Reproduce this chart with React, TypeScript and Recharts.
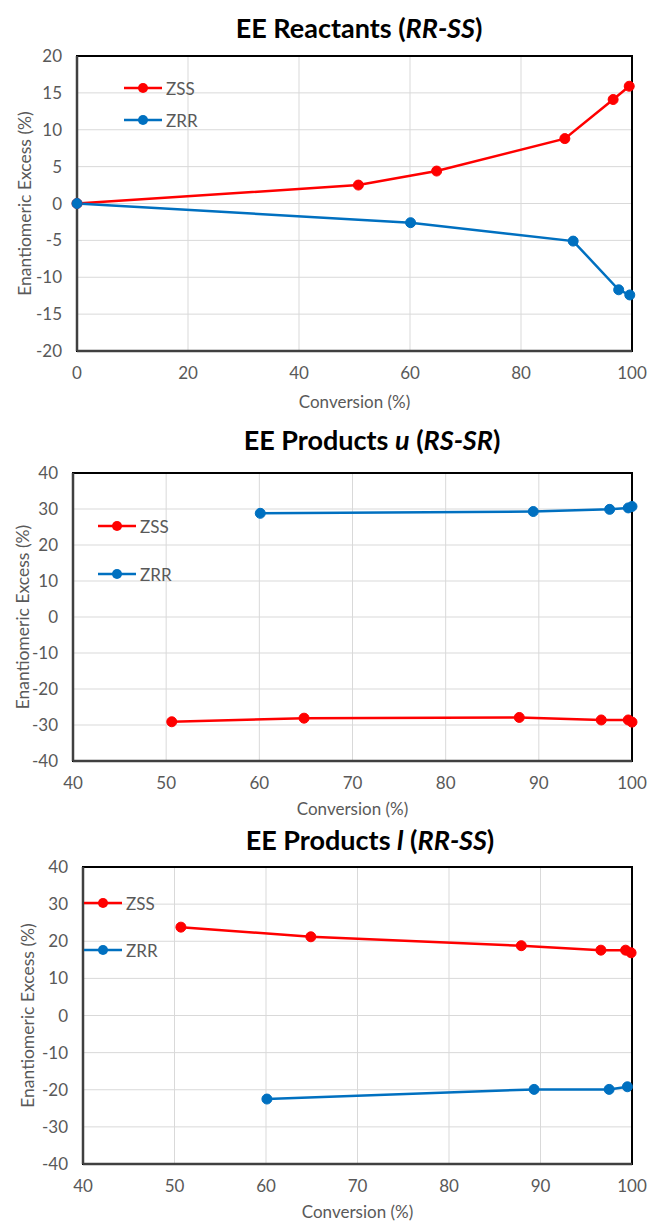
import React from "react";
import { LineChart, Line, XAxis, YAxis, CartesianGrid, Legend, ReferenceArea } from "recharts";

// EE Reactants (RR-SS)
const reactZssConv = [0, 50.7, 64.8, 87.9, 96.6, 99.5];
const reactZssEe = [0, 2.5, 4.4, 8.8, 14.1, 15.9];
const reactZrrConv = [0, 60.1, 89.4, 97.6, 99.6];
const reactZrrEe = [0, -2.6, -5.1, -11.7, -12.4];
const reactXTicks = [0, 20, 40, 60, 80, 100];
const reactYTicks = [-20, -15, -10, -5, 0, 5, 10, 15, 20];

// EE Products u (RS-SR)
const uZssConv = [50.6, 64.8, 87.9, 96.7, 99.6, 100];
const uZssEe = [-29.1, -28.1, -27.9, -28.6, -28.6, -29.2];
const uZrrConv = [60.1, 89.4, 97.6, 99.6, 100];
const uZrrEe = [28.8, 29.3, 29.9, 30.3, 30.7];

// EE Products l (RR-SS)
const lZssConv = [50.7, 64.9, 87.9, 96.6, 99.3, 99.9];
const lZssEe = [23.8, 21.2, 18.8, 17.6, 17.6, 16.9];
const lZrrConv = [60.1, 89.3, 97.5, 99.5];
const lZrrEe = [-22.5, -19.9, -19.9, -19.2];

const prodXTicks = [40, 50, 60, 70, 80, 90, 100];
const prodYTicks = [-40, -30, -20, -10, 0, 10, 20, 30, 40];

const seriesOrder = ["ZSS", "ZRR"];

const RED = "#FF0000";
const BLUE = "#0070C0";
const GREY = "#595959";
const FONT = "Lato, 'Open Sans', sans-serif";

const toPoints = (conv: number[], ee: number[]) => conv.map((c, i) => ({ conv: c, ee: ee[i] }));

const LegendBox = ({ payload, gap }: any) => {
  const items = [...(payload || [])].sort(
    (a: any, b: any) => seriesOrder.indexOf(a.value) - seriesOrder.indexOf(b.value)
  );
  return (
    <svg width={90} height={gap + 20}>
      {items.map((p: any, i: number) => {
        const cy = 10 + i * gap;
        return (
          <g key={p.value}>
            <line x1={0} x2={38} y1={cy} y2={cy} stroke={p.color} strokeWidth={2.5} />
            <circle cx={19} cy={cy} r={5} fill={p.color} />
            <text x={42} y={cy} dominantBaseline="central" fill={GREY} fontSize={17} fontFamily={FONT}>
              {p.value}
            </text>
          </g>
        );
      })}
    </svg>
  );
};

type PanelProps = {
  top: number;
  height: number;
  plotLeft: number;
  plotTop: number;
  plotBottom: number;
  xDomain: [number, number];
  xTicks: number[];
  yDomain: [number, number];
  yTicks: number[];
  zss: { conv: number; ee: number }[];
  zrr: { conv: number; ee: number }[];
  title: React.ReactNode;
  titleX: number;
  titleY: number;
  yTitleX: number;
  xTitleDy: number;
  legend: { left: number; top: number; gap: number };
};

function Panel(p: PanelProps) {
  const plotRight = 632;
  const yTitle = (props: any) => {
    const vb = props.viewBox;
    const cy = vb.y + vb.height / 2;
    return (
      <text x={p.yTitleX} y={cy} transform={`rotate(-90 ${p.yTitleX} ${cy})`} textAnchor="middle"
        dominantBaseline="central" fill={GREY} fontSize={17.5} fontFamily={FONT}>
        Enantiomeric Excess (%)
      </text>
    );
  };
  const xTitle = (props: any) => {
    const vb = props.viewBox;
    return (
      <text x={vb.x + vb.width / 2} y={vb.y + p.xTitleDy} textAnchor="middle" dominantBaseline="central"
        fill={GREY} fontSize={17} fontFamily={FONT}>
        Conversion (%)
      </text>
    );
  };
  return (
    <div style={{ position: "absolute", left: 0, top: p.top, width: 648, height: p.height }}>
      <div style={{ position: "absolute", left: p.titleX - 200, width: 400, top: p.titleY - 14, textAlign: "center",
        fontFamily: FONT, fontWeight: 700, fontSize: 27, lineHeight: 1, color: "#000" }}>
        {p.title}
      </div>
      <LineChart width={648} height={p.height}
        margin={{ top: p.plotTop, right: 648 - plotRight, bottom: 0, left: 0 }}>
        <CartesianGrid stroke="#D9D9D9" strokeWidth={1} />
        <XAxis type="number" dataKey="conv" domain={p.xDomain} ticks={p.xTicks} height={p.height - p.plotBottom}
          tickLine={false} tickMargin={10} axisLine={{ stroke: "#404040", strokeWidth: 2.5 }}
          tick={{ fill: GREY, fontSize: 17, fontFamily: FONT }} label={xTitle} />
        <YAxis type="number" domain={p.yDomain} ticks={p.yTicks} width={p.plotLeft} interval={0}
          tickLine={false} tickMargin={9} axisLine={{ stroke: "#404040", strokeWidth: 2.5 }}
          tick={{ fill: GREY, fontSize: 17, fontFamily: FONT }} label={yTitle} />
        <ReferenceArea x1={p.xDomain[0]} x2={p.xDomain[1]} y1={p.yDomain[0]} y2={p.yDomain[1]}
          fill="none" fillOpacity={0} stroke="#000" strokeWidth={2} />
        <Legend layout="vertical" align="center" verticalAlign="middle"
          wrapperStyle={{ left: p.legend.left, top: p.legend.top, width: 90 }}
          content={(props: any) => <LegendBox {...props} gap={p.legend.gap} />} />
        <Line name="ZSS" data={p.zss} dataKey="ee" type="linear" stroke={RED} strokeWidth={2.5}
          dot={{ r: 5, fill: RED, stroke: RED, strokeWidth: 1 }} activeDot={false} isAnimationActive={false} />
        <Line name="ZRR" data={p.zrr} dataKey="ee" type="linear" stroke={BLUE} strokeWidth={2.5}
          dot={{ r: 5, fill: BLUE, stroke: BLUE, strokeWidth: 1 }} activeDot={false} isAnimationActive={false} />
      </LineChart>
    </div>
  );
}

export default function App() {
  return (
    <div style={{ position: "absolute", left: 0, top: 0, width: 648, height: 1223, background: "#fff" }}>
      <Panel top={0} height={410} plotLeft={77} plotTop={56} plotBottom={351}
        xDomain={[0, 100]} xTicks={reactXTicks} yDomain={[-20, 20]} yTicks={reactYTicks}
        zss={toPoints(reactZssConv, reactZssEe)} zrr={toPoints(reactZrrConv, reactZrrEe)}
        title={<>EE Reactants (<i>RR-SS</i>)</>} titleX={359} titleY={28} yTitleX={24} xTitleDy={50}
        legend={{ left: 124, top: 78, gap: 32 }} />
      <Panel top={410} height={410} plotLeft={73} plotTop={63} plotBottom={351}
        xDomain={[40, 100]} xTicks={prodXTicks} yDomain={[-40, 40]} yTicks={prodYTicks}
        zss={toPoints(uZssConv, uZssEe)} zrr={toPoints(uZrrConv, uZrrEe)}
        title={<>EE Products <i>u</i> (<i>RS-SR</i>)</>} titleX={372} titleY={30} yTitleX={22} xTitleDy={47}
        legend={{ left: 98, top: 106, gap: 48 }} />
      <Panel top={820} height={403} plotLeft={83} plotTop={47} plotBottom={344}
        xDomain={[40, 100]} xTicks={prodXTicks} yDomain={[-40, 40]} yTicks={prodYTicks}
        zss={toPoints(lZssConv, lZssEe)} zrr={toPoints(lZrrConv, lZrrEe)}
        title={<>EE Products <i>l</i> (<i>RR-SS</i>)</>} titleX={370} titleY={20} yTitleX={27} xTitleDy={47}
        legend={{ left: 84, top: 73, gap: 47 }} />
    </div>
  );
}
